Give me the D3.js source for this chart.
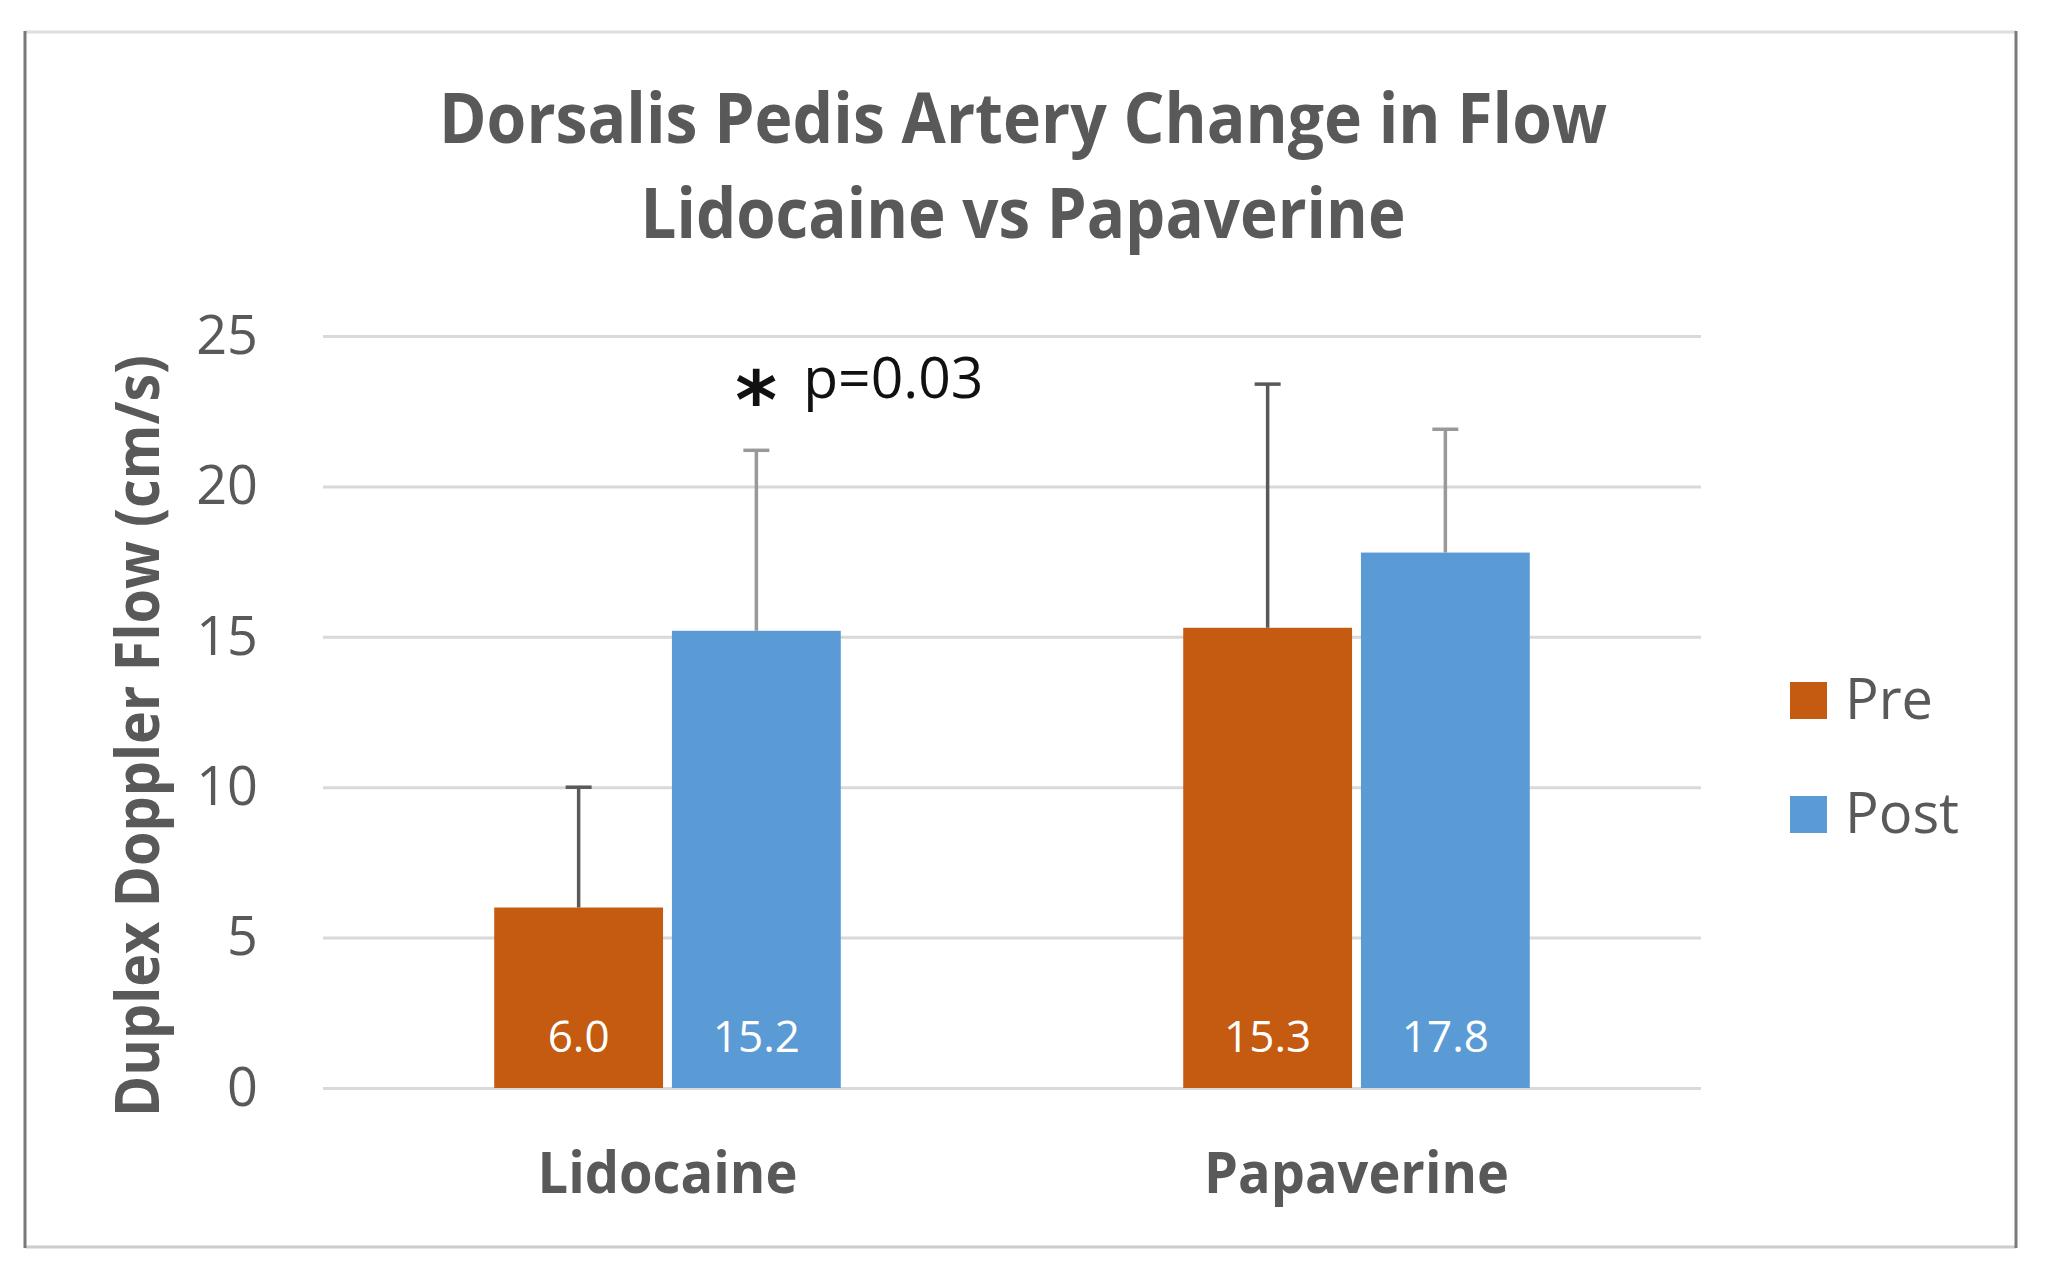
<!DOCTYPE html>
<html>
<head>
<meta charset="utf-8">
<script src="https://cdn.jsdelivr.net/npm/d3@7"></script>
<style>
    body { margin: 0; background: #fff; }
    svg { display: block; }
</style>
</head>
<body>
<div id="chart"><svg></svg></div>
<script>
let categories = ["Lidocaine", "Papaverine"];
let seriesNames = ["Pre", "Post"];
let preValues = [6.0, 15.3];
let postValues = [15.2, 17.8];
let preSD = [4.0, 8.1];
let postSD = [6.0, 4.1];
let yTicks = [0, 5, 10, 15, 20, 25];
let titleLines = ["Dorsalis Pedis Artery Change in Flow", "Lidocaine vs Papaverine"];
let yTitle = "Duplex Doppler Flow (cm/s)";
let pNote = "p=0.03";

let W = 2046, H = 1275;
let svg = d3.select("#chart svg").attr("width", W).attr("height", H);

let margin = {top: 336, right: 345, bottom: 187, left: 323};
let width = W - margin.left - margin.right;
let height = H - margin.top - margin.bottom;

let colors = {Pre: "#c55a11", Post: "#5b9bd5"};
let errColors = {Pre: "#595959", Post: "#999999"};
let grey = "#595959";

// frame
svg.append("line").attr("x1", 25).attr("x2", 2016).attr("y1", 32).attr("y2", 32)
    .attr("stroke", "#dedede").attr("stroke-width", 3);
svg.append("line").attr("x1", 25).attr("x2", 2016).attr("y1", 1247).attr("y2", 1247)
    .attr("stroke", "#cccccc").attr("stroke-width", 3);
svg.append("line").attr("x1", 25).attr("x2", 25).attr("y1", 31).attr("y2", 1248)
    .attr("stroke", "#7a7a7a").attr("stroke-width", 3);
svg.append("line").attr("x1", 2016).attr("x2", 2016).attr("y1", 31).attr("y2", 1248)
    .attr("stroke", "#7a7a7a").attr("stroke-width", 3);

// title
svg.append("g")
    .selectAll("text")
    .data(titleLines)
    .enter().append("text")
    .attr("x", 1023)
    .attr("y", (d, i) => 143 + i * 95)
    .attr("text-anchor", "middle")
    .attr("font-family", "'Open Sans', sans-serif")
    .attr("font-weight", 700)
    .attr("font-size", 70)
    .attr("fill", grey)
    .attr("textLength", (d, i) => i === 0 ? 1168 : 765)
    .attr("lengthAdjust", "spacingAndGlyphs")
    .text(d => d);

let g = svg.append("g").attr("transform", "translate(" + margin.left + "," + margin.top + ")");

let x0 = d3.scaleBand()
    .domain(categories)
    .range([0, width])
    .paddingInner(0.497)
    .paddingOuter(0.2485);

let x1 = d3.scaleBand()
    .domain(seriesNames)
    .range([0, x0.bandwidth()])
    .paddingInner(0.05);

let y = d3.scaleLinear()
    .domain([0, 25])
    .range([height, 0]);

// y axis + gridlines
let yAxis = g.append("g")
    .call(d3.axisLeft(y).tickValues(yTicks).tickSize(-width).tickPadding(65));
yAxis.select(".domain").remove();
yAxis.selectAll(".tick line").attr("stroke", "#d9d9d9").attr("stroke-width", 3);
yAxis.selectAll(".tick text")
    .attr("font-family", "'Open Sans', sans-serif")
    .attr("font-size", 54)
    .attr("fill", grey);

// x axis labels
let xAxis = g.append("g")
    .attr("transform", "translate(0," + height + ")")
    .call(d3.axisBottom(x0).tickSize(0));
xAxis.select(".domain").remove();
xAxis.selectAll(".tick text")
    .attr("y", 105)
    .attr("dy", 0)
    .attr("font-family", "'Open Sans', sans-serif")
    .attr("font-weight", 700)
    .attr("font-size", 57)
    .attr("fill", grey)
    .attr("textLength", d => d === "Lidocaine" ? 260 : 305)
    .attr("lengthAdjust", "spacingAndGlyphs");

// build rows
let rows = categories.map((c, i) => ({
    cat: c,
    items: [
        {key: "Pre", value: preValues[i], sd: preSD[i]},
        {key: "Post", value: postValues[i], sd: postSD[i]}
    ]
}));

let groups = g.append("g")
    .selectAll("g")
    .data(rows)
    .enter().append("g")
    .attr("transform", d => "translate(" + x0(d.cat) + ",0)");

groups.selectAll("rect")
    .data(d => d.items)
    .enter().append("rect")
    .attr("x", d => x1(d.key))
    .attr("y", d => y(d.value))
    .attr("width", x1.bandwidth())
    .attr("height", d => height - y(d.value))
    .attr("fill", d => colors[d.key]);

// error bars (upper only)
let err = groups.selectAll("g.err")
    .data(d => d.items)
    .enter().append("g")
    .attr("class", "err")
    .attr("stroke", d => errColors[d.key])
    .attr("stroke-width", 3.5);

err.append("line")
    .attr("x1", d => x1(d.key) + x1.bandwidth() / 2)
    .attr("x2", d => x1(d.key) + x1.bandwidth() / 2)
    .attr("y1", d => y(d.value))
    .attr("y2", d => y(d.value + d.sd));

err.append("line")
    .attr("x1", d => x1(d.key) + x1.bandwidth() / 2 - 13)
    .attr("x2", d => x1(d.key) + x1.bandwidth() / 2 + 13)
    .attr("y1", d => y(d.value + d.sd))
    .attr("y2", d => y(d.value + d.sd));

// value labels
groups.selectAll("text.val")
    .data(d => d.items)
    .enter().append("text")
    .attr("class", "val")
    .attr("x", d => x1(d.key) + x1.bandwidth() / 2)
    .attr("y", height - 36)
    .attr("text-anchor", "middle")
    .attr("font-family", "'Open Sans', sans-serif")
    .attr("font-size", 44)
    .attr("fill", "#ffffff")
    .text(d => d.value.toFixed(1));

// significance note over Lidocaine Post
let noteX = x0(categories[0]) + x1("Post") + x1.bandwidth() / 2;
let note = g.append("text")
    .attr("x", noteX - 21)
    .attr("y", 62)
    .attr("font-family", "'Open Sans', sans-serif")
    .attr("font-size", 57)
    .attr("fill", "#111111");
note.append("tspan")
    .attr("font-family", "'DejaVu Sans', sans-serif")
    .attr("font-weight", 700)
    .attr("font-size", 80)
    .attr("dy", 30)
    .text("*");
note.append("tspan")
    .attr("dx", 26)
    .attr("dy", -30)
    .text(pNote);

// y title
svg.append("text")
    .attr("transform", "translate(159,736) rotate(-90)")
    .attr("text-anchor", "middle")
    .attr("font-family", "'Open Sans', sans-serif")
    .attr("font-weight", 700)
    .attr("font-size", 60)
    .attr("fill", grey)
    .attr("textLength", 762)
    .attr("lengthAdjust", "spacingAndGlyphs")
    .text(yTitle);

// legend
let legend = svg.append("g")
    .selectAll("g")
    .data(seriesNames)
    .enter().append("g")
    .attr("transform", (d, i) => "translate(1790," + (682 + i * 114) + ")");

legend.append("rect")
    .attr("width", 37)
    .attr("height", 37)
    .attr("fill", d => colors[d]);

legend.append("text")
    .attr("x", 55)
    .attr("y", 37)
    .attr("font-family", "'Open Sans', sans-serif")
    .attr("font-size", 56)
    .attr("fill", grey)
    .text(d => d);
</script>
</body>
</html>
